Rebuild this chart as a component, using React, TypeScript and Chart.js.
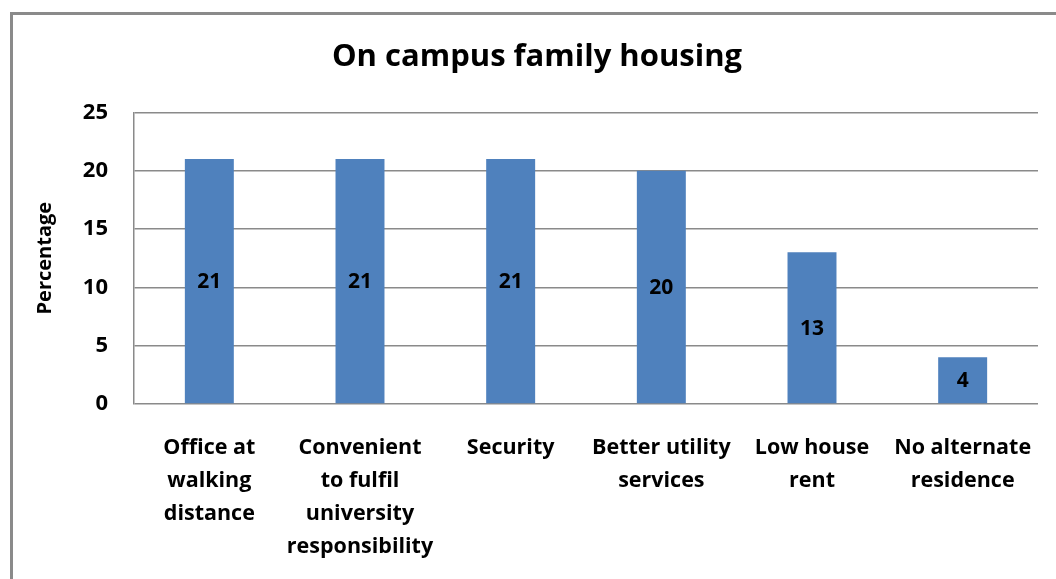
import React, { useEffect, useRef } from "react";
import { Chart, registerables } from "chart.js";

Chart.register(...registerables);

const categories: string[][] = [
  ["Office at", "walking", "distance"],
  ["Convenient", "to fulfil", "university", "responsibility"],
  ["Security"],
  ["Better utility", "services"],
  ["Low house", "rent"],
  ["No alternate", "residence"],
];
const percentages: number[] = [21, 21, 21, 20, 13, 4];
const chartTitle = "On campus family housing";
const yAxisTitle = "Percentage";

const FONT = "'Open Sans', Lato, sans-serif";

const framePlugin = {
  id: "frame",
  afterLayout(chart: any) {
    if (chart.titleBlock) {
      chart.titleBlock.left = 36;
    }
  },
  beforeDraw(chart: any) {
    const ctx = chart.ctx;
    ctx.save();
    ctx.fillStyle = "#ffffff";
    ctx.fillRect(0, 0, chart.width, chart.height);
    ctx.strokeStyle = "#8a8a8a";
    ctx.lineWidth = 3;
    ctx.beginPath();
    ctx.moveTo(11.5, chart.height);
    ctx.lineTo(11.5, 13.5);
    ctx.lineTo(chart.width, 13.5);
    ctx.stroke();
    ctx.restore();
  },
};

const valueLabelPlugin = {
  id: "valueLabels",
  afterDatasetsDraw(chart: any) {
    const ctx = chart.ctx;
    const meta = chart.getDatasetMeta(0);
    const data = chart.data.datasets[0].data;
    ctx.save();
    ctx.fillStyle = "#000000";
    ctx.font = `bold 21px ${FONT}`;
    ctx.textAlign = "center";
    ctx.textBaseline = "middle";
    meta.data.forEach((bar: any, i: number) => {
      const y = (bar.y + bar.base) / 2;
      ctx.fillText(String(data[i]), bar.x, y + 1);
    });
    ctx.restore();
  },
};

export default function App() {
  const canvasRef = useRef<HTMLCanvasElement | null>(null);

  useEffect(() => {
    const canvas = canvasRef.current;
    if (!canvas) return;
    const chart = new Chart(canvas, {
      type: "bar",
      data: {
        labels: categories,
        datasets: [
          {
            data: percentages,
            backgroundColor: "#4F81BD",
            borderWidth: 0,
            barPercentage: 0.325,
            categoryPercentage: 1,
          },
        ],
      },
      options: {
        responsive: false,
        animation: false,
        layout: { padding: { left: 0, right: 18, top: 0, bottom: 0 } },
        plugins: {
          legend: { display: false },
          tooltip: { enabled: false },
          title: {
            display: true,
            text: chartTitle,
            color: "#000000",
            font: { family: FONT, size: 31, weight: "bold", lineHeight: 1.2 },
            padding: { top: 39, bottom: 36.2 },
          },
        },
        scales: {
          x: {
            grid: { display: false, drawTicks: false },
            border: { display: false },
            ticks: {
              color: "#000000",
              padding: 27.5,
              maxRotation: 0,
              autoSkip: false,
              font: { family: FONT, size: 21.5, weight: "bold", lineHeight: 1.535 },
            },
            afterFit(scale: any) {
              scale.height = 175;
              scale.paddingLeft = 0;
              scale.paddingRight = 0;
            },
          },
          y: {
            min: 0,
            max: 25,
            ticks: {
              stepSize: 5,
              color: "#000000",
              padding: 26,
              font: { family: FONT, size: 22, weight: "bold" },
            },
            grid: { color: "#8a8a8a", lineWidth: 1.5, drawTicks: false },
            border: { display: true, color: "#8a8a8a", width: 1.5 },
            title: {
              display: true,
              text: yAxisTitle,
              color: "#000000",
              font: { family: FONT, size: 20, weight: "bold", lineHeight: 1.2 },
              padding: { top: 33, bottom: 0 },
            },
            afterFit(scale: any) {
              scale.width = 134;
            },
          },
        },
      },
      plugins: [framePlugin, valueLabelPlugin],
    });
    return () => chart.destroy();
  }, []);

  return (
    <div style={{ position: "absolute", left: 0, top: 0, width: 1056, height: 579 }}>
      <canvas ref={canvasRef} width={1056} height={579} />
    </div>
  );
}
